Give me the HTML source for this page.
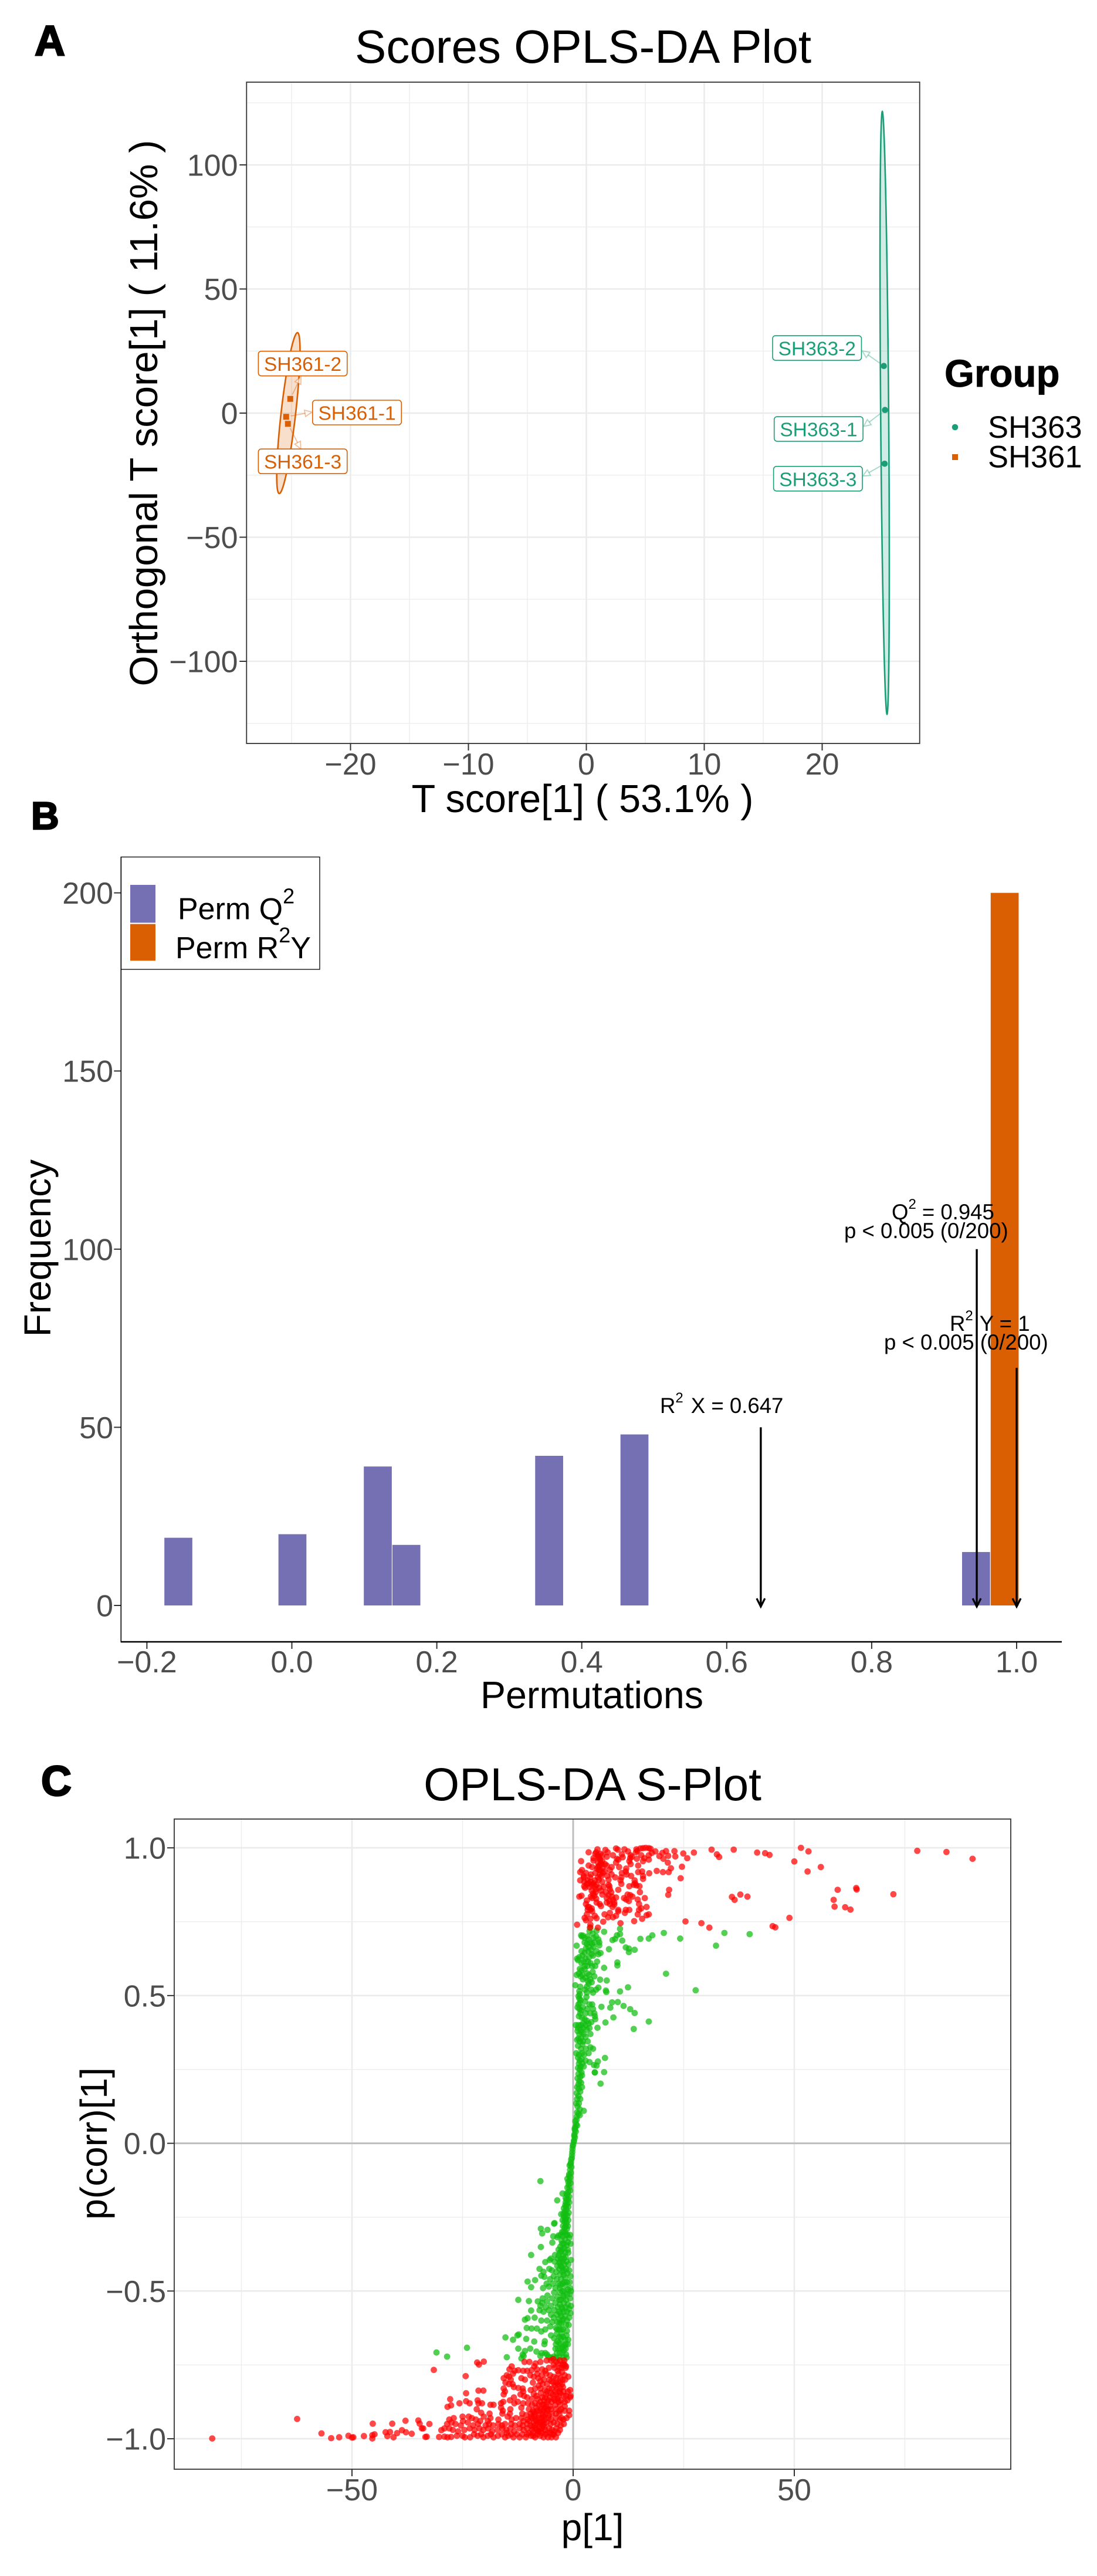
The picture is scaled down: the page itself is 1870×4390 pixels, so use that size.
<!DOCTYPE html>
<html lang="en">
<head>
<meta charset="utf-8">
<title>OPLS-DA figure</title>
<style>
html,body{margin:0;padding:0;background:#fff;}
svg{display:block;font-family:"Liberation Sans",Arial,sans-serif;}
</style>
</head>
<body>
<svg id="fig" xmlns="http://www.w3.org/2000/svg" width="1870" height="4390" viewBox="0 0 1870 4390">
  <rect x="0" y="0" width="1870" height="4390" fill="#fff"/>

  <text x="59" y="94" font-size="72" font-weight="bold" stroke="#000" stroke-width="2.5">A</text>
  <text x="53" y="1413" font-size="66" font-weight="bold" stroke="#000" stroke-width="2.5">B</text>
  <text x="70" y="3060" font-size="72" font-weight="bold" stroke="#000" stroke-width="2.5">C</text>

  <g id="panelA">
    <text x="994" y="107" font-size="80" text-anchor="middle">Scores OPLS-DA Plot</text>
    <g id="aGrid"></g>
    <g id="aMarks"></g>
    <rect x="420.3" y="140" width="1147.4" height="1127" fill="none" stroke="#333" stroke-width="1.8"/>
    <g id="aLabels"></g>
    <g id="aAxes"></g>
    <text x="993" y="1384" font-size="66.5" text-anchor="middle">T score[1] ( 53.1% )</text>
    <text x="268" y="704" font-size="67" text-anchor="middle" transform="rotate(-90 268 704)">Orthogonal T score[1] ( 11.6% )</text>
    <g>
      <text x="1610" y="659" font-size="65.5" font-weight="bold" stroke="#000" stroke-width="0.8">Group</text>
      <circle cx="1628" cy="728" r="5.3" fill="#1B9E77"/>
      <text x="1684" y="746" font-size="52.5">SH363</text>
      <rect x="1623" y="774" width="10" height="10" fill="#D95F02"/>
      <text x="1684" y="796.5" font-size="52.5">SH361</text>
    </g>
  </g>

  <g id="panelB">
    <g id="bMarks"></g>
    <g id="bArrows"></g>
    <g id="bAxes"></g>
    <line x1="206" y1="2798" x2="1810" y2="2798" stroke="#000" stroke-width="2.6"/>
    <line x1="206.3" y1="1460" x2="206.3" y2="2799" stroke="#000" stroke-width="1.6"/>
    <text x="1125" y="2408" font-size="36.6">R<tspan font-size="24" dy="-18">2</tspan><tspan dy="18" dx="13">X = 0.647</tspan></text>
    <text x="1520" y="2078" font-size="36.6">Q<tspan font-size="24" dy="-18">2</tspan><tspan dy="18" dx="10">= 0.945</tspan></text>
    <text x="1439" y="2110" font-size="36.6">p &lt; 0.005 (0/200)</text>
    <text x="1619" y="2268" font-size="36.6">R<tspan font-size="24" dy="-18">2</tspan><tspan dy="18" dx="11">Y = 1</tspan></text>
    <text x="1507" y="2300" font-size="36.6">p &lt; 0.005 (0/200)</text>
    <g>
      <rect x="206.5" y="1460.5" width="338.5" height="191.5" fill="#fff" stroke="#000" stroke-width="1.3"/>
      <rect x="222" y="1508" width="43" height="64.5" fill="#7570B3"/>
      <rect x="222" y="1574.7" width="43" height="62.5" fill="#D95F02"/>
      <text x="303" y="1566.5" font-size="52">Perm Q<tspan font-size="36" dy="-27">2</tspan></text>
      <text x="299" y="1633" font-size="52">Perm R<tspan font-size="36" dy="-27">2</tspan><tspan dy="27">Y</tspan></text>
    </g>
    <text x="1009" y="2911" font-size="64.5" text-anchor="middle">Permutations</text>
    <text x="86" y="2127" font-size="64" text-anchor="middle" transform="rotate(-90 86 2127)">Frequency</text>
  </g>

  <g id="panelC">
    <text x="1010" y="3068" font-size="78.5" text-anchor="middle">OPLS-DA S-Plot</text>
    <g id="cGrid"></g>
    <g id="cMarks"></g>
    <rect x="297" y="3100" width="1426" height="1108" fill="none" stroke="#333" stroke-width="1.8"/>
    <g id="cAxes"></g>
    <text x="1010" y="4329" font-size="64" text-anchor="middle">p[1]</text>
    <text x="182" y="3653" font-size="64" text-anchor="middle" transform="rotate(-90 182 3653)">p(corr)[1]</text>
  </g>
</svg>

<script>
// ---------- Panel A data ----------
const aXTicks = [-20, -10, 0, 10, 20];
const aXTickLabels = ['\u221220', '\u221210', '0', '10', '20'];
const aYTicks = [100, 50, 0, -50, -100];
const aYTickLabels = ['100', '50', '0', '\u221250', '\u2212100'];
const aXMinor = [-25, -15, -5, 5, 15];
const aYMinor = [125, 75, 25, -25, -75, -125];
const sh361Names = ['SH361-1', 'SH361-2', 'SH361-3'];
const sh361X = [-25.46, -25.11, -25.31];
const sh361Y = [-1.49, 5.74, -4.33];
const sh363Names = ['SH363-1', 'SH363-2', 'SH363-3'];
const sh363X = [25.33, 25.23, 25.30];
const sh363Y = [1.25, 18.98, -20.4];
// ellipse fit: centre x, centre y, half-width, half-height, tilt
const sh361Ellipse = [-25.27, 0, 0.62, 32.4, 0.77];
const sh363Ellipse = [25.3, 0.1, 0.34, 121.4, -0.2];

// ---------- Panel B data ----------
const bXTicks = [-0.2, 0, 0.2, 0.4, 0.6, 0.8, 1.0];
const bXTickLabels = ['\u22120.2', '0.0', '0.2', '0.4', '0.6', '0.8', '1.0'];
const bYTicks = [0, 50, 100, 150, 200];
const bYTickLabels = ['0', '50', '100', '150', '200'];
const q2BinCentres = [-0.1566, 0.0008, 0.1186, 0.158, 0.355, 0.4727, 0.944];
const q2Counts = [19, 20, 39, 17, 42, 48, 15];
const r2yBinCentres = [0.9835];
const r2yCounts = [200];
const binWidth = 0.0394;
const arrowValues = [0.647, 0.945, 1];
const arrowHeights = [50, 100, 66.7];

// ---------- Panel C data ----------
const cXTicks = [-50, 0, 50];
const cXTickLabels = ['\u221250', '0', '50'];
const cYTicks = [1, 0.5, 0, -0.5, -1];
const cYTickLabels = ['1.0', '0.5', '0.0', '\u22120.5', '\u22121.0'];
const cXMinor = [-75, -25, 25, 75];
const cYMinor = [0.75, 0.25, -0.25, -0.75];

const greenPositive = [
[32.3,.669],[34.2,.712],[39.9,.708],[24.2,.693],[20.5,.712],[17.9,.704],[17.1,.693],[15.2,.692],[10.6,.726],[10.6,.708],[9.9,.704],[9.5,.692],[8.9,.688],[11.1,.686],[7,.716],[5.3,.72],[3.9,.73],[3.7,.718],[1.8,.704],[2.2,.703],[.8,.669],[8.1,.657],[11.9,.663],[12.6,.659],[13.9,.655],[12.6,.647],[6.2,.644],[21,.574],[27.7,.518],[10,.612],[10,.602],[7,.594],[6.1,.554],[7.6,.551],[12.4,.528],[10.6,.514],[7.5,.512],[7.4,.517],[5.7,.527],[10.1,.478],[8.8,.477],[11.4,.465],[12.9,.454],[13.9,.441],[6.4,.462],[8.4,.459],[17.1,.412],[9.1,.426],[7.3,.409],[13.7,.387],[5.5,.391],[7.2,.289],[5.6,.277],[5.3,.263],[4.9,.24],[7,.241],[6.2,.202],
[2,.7],[2.6,.695],[3.2,.7],[3.5,.69],[4.4,.71],[4.6,.695],[5.2,.7],[5.7,.69],[2.6,.68],[3.1,.675],[3.8,.68],[4.3,.675],[4.8,.68],[5.9,.68],[2.9,.66],[3.5,.665],[4.1,.655],[4.6,.665],[5.9,.67],[1.9,.65],[2.6,.645],[3.4,.65],[4.2,.64],[5.3,.65],[1.4,.63],[2.1,.635],[2.8,.625],[3.6,.63],[4.5,.635],[5.7,.64],[.9,.625],[1.1,.62],[1.9,.61],[2.4,.615],[3.3,.615],[3.9,.61],[5.4,.615],[5,.6],[4.3,.6],[3.2,.6],[2.6,.6],
[1.5,.59],[1.9,.585],[2.1,.57],[2.6,.59],[3.2,.575],[1.3,.575],[1.7,.565],[.8,.57],[3.6,.57],[4.4,.58],[4.8,.565],[3.9,.555],[3.3,.55],[2.8,.56],[2.2,.555],[4.2,.545],[3.5,.54],[.5,.535],[1.6,.53],[2.7,.52],[3.1,.53],[4.1,.52],[4.5,.51],[5.2,.52],[1.4,.515],[1.5,.505],[1.2,.498],[3.1,.51],[3,.495],
[1.4,.49],[1.7,.485],[1.5,.475],[1.2,.47],[1,.46],[1.4,.455],[1.8,.45],[1.6,.44],[4.3,.47],[4.5,.455],[4.8,.44],[2.7,.48],[3.7,.47],[3.2,.455],[2.8,.44],[2.2,.46],[3.9,.44],[4.9,.43],[5,.42],[1.3,.43],[2,.425],[2.6,.42],[3.1,.415],[2.2,.405],[2.8,.4],[3.5,.405],[4.1,.41],[.6,.4],[1.2,.4],[1.8,.4],
[1.1,.39],[1.7,.385],[2.3,.39],[3.1,.385],[3.7,.39],[1,.38],[1.4,.37],[1.9,.375],[2.4,.37],[3.9,.37],[1.2,.355],[1.8,.355],[2.8,.36],[.9,.35],[1.5,.345],[2.2,.345],[3.3,.345],[2.1,.335],[3.9,.325],[4.5,.32],[1.1,.33],[1.8,.32],[2.9,.32],[.7,.305],[1.3,.3],[2,.305],[2.5,.3],[3.5,.305],
[1.1,.29],[1.5,.28],[1.9,.285],[1.3,.27],[1.7,.26],[2.1,.27],[1.1,.255],[1.5,.25],[1.9,.24],[1.2,.235],[1.6,.225],[2,.23],[2.4,.26],[4.7,.265],[3.7,.275],[1,.22],[1.4,.21],[1.8,.205],[4.9,.24],[2.8,.28],[1.2,.2],
[.9,.19],[1.3,.185],[1.6,.175],[2,.19],[.8,.17],[1.2,.16],[1.6,.15],[.9,.15],[1.3,.135],[.7,.135],[2.4,.11],[1.5,.115],[1,.125],[.9,.105],[1.2,.1],[1.5,.095],[.8,.09],
[.8,.08],[.5,.075],[.7,.065],[.9,.06],[.5,.055],[.4,.045],[.6,.04],[.3,.03],[.4,.02],[.2,.01],[.35,.05],[.25,.025],[.15,.005],[0,-.005]
];

const greenNegative = [
[-.1,-.01],[-.15,-.02],[-.2,-.03],[-.25,-.04],[-.3,-.05],[-.45,-.055],[-.5,-.065],[-.6,-.07],[-.8,-.075],[-.4,-.08],[-.7,-.09],[-.5,-.1],[-.9,-.105],[-.65,-.115],[-1.3,-.12],[-.8,-.125],[-.6,-.135],[-1,-.14],[-.85,-.15],[-.7,-.16],[-1.1,-.165],[-1.3,-.175],[-.9,-.18],[-1.7,-.185],[-1.1,-.19],[-.9,-.2],[-1.4,-.205],[-1.8,-.21],[-1.1,-.215],[-1.5,-.225],[-1.9,-.23],[-1,-.235],[-1.3,-.245],[-2,-.25],[-1.6,-.255],[-1.1,-.26],[-2,-.265],[-1.5,-.27],[-1.2,-.28],[-1.9,-.285],[-1.4,-.29],[-1.8,-.3],
[-7.4,-.128],[-3.6,-.193],[-2.4,-.17],[-2.7,-.24],[-4.3,-.272],[-4.2,-.27],[-7.3,-.289],[-5.8,-.293],[-7,-.305],[-4.5,-.315],[-3.6,-.318],[-3.3,-.312],[-4.7,-.336],[-7.3,-.351],[-9.5,-.378],
[-2.8,-.31],[-2.3,-.315],[-1.5,-.31],[-.7,-.31],[-.9,-.32],[-1.8,-.325],[-2.6,-.33],[-1.2,-.335],[-2.1,-.34],[-1.5,-.345],[-2.9,-.35],[-.6,-.34],[-2,-.355],[-1.2,-.36],[-3.3,-.36],[-2.7,-.365],[-1.8,-.37],[-1.1,-.37],[-2.3,-.38],[-3.3,-.38],[-4.1,-.378],[-3.5,-.39],[-2.7,-.39],[-1.7,-.385],[-5,-.39],[-5.3,-.395],[-6.3,-.402],[-4.2,-.4],[-2.4,-.4],[-3.1,-.405],[-1.5,-.4],[-.5,-.395],
[-1.1,-.41],[-2,-.41],[-2.8,-.415],[-3.6,-.415],[-7.6,-.425],[-6.7,-.435],[-5.4,-.425],[-4.8,-.43],[-3.1,-.425],[-1.6,-.425],[-.9,-.43],[-2.4,-.435],[-3.8,-.435],[-1.3,-.44],[-2.1,-.445],[-3,-.445],[-4.4,-.45],[-7.2,-.448],[-6.5,-.452],[-.6,-.45],[-1.8,-.455],[-2.7,-.46],[-3.7,-.46],[-5.2,-.46],[-8.6,-.463],[-10.3,-.468],[-.8,-.47],[-1.4,-.47],[-2.4,-.475],[-3.3,-.475],[-4.6,-.475],[-6,-.475],[-1.8,-.48],[-9.5,-.487],[-5.5,-.485],[-3,-.49],[-4,-.49],[-.7,-.49],[-1.2,-.495],[-6.8,-.49],[-2,-.5],[-.5,-.5],
[-3,-.505],[-4.3,-.505],[-1.4,-.51],[-.8,-.51],[-2.2,-.515],[-5.8,-.515],[-3.5,-.52],[-6.9,-.525],[-.7,-.525],[-4.7,-.525],[-2.8,-.53],[-1.6,-.53],[-12.4,-.53],[-10,-.534],[-8,-.535],[-7,-.54],[-5.9,-.535],[-4,-.54],[-3,-.545],[-2.1,-.54],[-1.2,-.545],[-7.4,-.55],[-.5,-.55],[-6.2,-.555],[-5,-.55],[-3.5,-.555],[-2.6,-.555],[-1.7,-.555],[-.9,-.56],[-9.5,-.566],[-7.6,-.565],[-6.7,-.57],[-5.5,-.565],[-4.2,-.565],[-3.2,-.57],[-2.1,-.57],[-1.4,-.57],[-.6,-.575],[-5,-.58],[-3.7,-.58],[-2.7,-.585],[-1.8,-.585],[-.9,-.59],[-4.4,-.59],[-3.2,-.595],[-2.2,-.595],[-1.4,-.6],[-10.9,-.597],[-10.3,-.592],[-8.7,-.59],[-7.2,-.6],[-5.9,-.6],[-4.7,-.605],[-3.6,-.605],
[-2.7,-.61],[-1.6,-.615],[-1,-.615],[-10.5,-.625],[-9.4,-.627],[-8.2,-.627],[-7.2,-.637],[-6.3,-.63],[-5.2,-.62],[-3.9,-.625],[-3.1,-.63],[-2.3,-.63],[-1.4,-.635],[-1.5,-.65],[-2.6,-.645],[-3.7,-.645],[-4.3,-.66],[-5,-.65],[-2.8,-.66],[-1.8,-.665],[-1.1,-.665],[-15.3,-.657],[-13.6,-.665],[-12.3,-.647],[-12.6,-.65],[-10.6,-.662],[-8.8,-.671],[-6.5,-.68],[-6.4,-.67],[-3.9,-.68],[-3.2,-.675],[-1.7,-.68],[-1.2,-.68],[-2.4,-.69],[-4,-.695],[-1.7,-.695],[-12.4,-.695],[-10.9,-.703],[-9.7,-.695],[-8.3,-.705],[-7.1,-.71],[-6.3,-.71],[-3.7,-.71],[-3,-.71],[-2.4,-.71],[-1.6,-.715],[-24,-.692],[-30.9,-.708],[-28.5,-.722],[-15,-.724],[-11.7,-.728],[-11.4,-.715],[-11.2,-.72],[-7.4,-.72],[-5.6,-.722],[-5,-.725],[-4.4,-.722],[-3.8,-.725],[-3.1,-.725],[-2.2,-.725],[-1.5,-.725],[-5.9,-.715],
[-.9,-.11],[-1.1,-.13],[-1.3,-.15],[-1.5,-.17],[-1.5,-.19],[-1.7,-.2],[-1.6,-.215],[-2.1,-.22],[-1.7,-.24],[-2.2,-.24],[-1.8,-.26],[-2.4,-.26],[-2.3,-.28],[-1.7,-.28],[-2.2,-.3],[-1.3,-.31],[-2.5,-.3],[-2.5,-.34],[-2.5,-.36],[-3,-.37],[-2.1,-.39],[-3,-.4],[-2.5,-.42],[-2.1,-.43],[-2,-.47],[-2.9,-.48],[-2.5,-.5],[-2.1,-.52],[-3.1,-.53],[-2.4,-.56],[-2.9,-.575],[-2.5,-.6],[-3.1,-.61],[-3.6,-.63],[-2.7,-.63],[-3.1,-.655],[-2.3,-.655],[-3.6,-.67],[-2.7,-.68],[-2.1,-.7],[-2.9,-.695],[-3.4,-.695],[-2,-.685]
];

const redPositive = [
[77.8,.99],[84.4,.986],[90.3,.963],[51.5,1],[53.2,.988],[50,.954],[53,.92],[56,.935],[72.4,.843],[64,.864],[64.1,.859],[59.8,.858],[58.9,.824],[59.1,.801],[61.5,.799],[62.7,.791],[48.9,.763],[45.1,.735],[45.7,.731],[39.4,.835],[37.8,.842],[35.9,.834],[36.5,.824],[25.4,.751],[29,.745],[30.8,.73],[41.6,.984],[43.4,.982],[44.4,.976],[36.3,.994],[31.3,.994],[32.5,.978],[33,.969],[27.3,.984],[25.8,.965],[24.9,.981],[24.6,.936],[24.3,.897],[22.9,.989],[23.1,.971],[22.1,.931],[21.4,.95],[21.7,.858],[21.5,.841],[21,.989],[21.6,.918],[20.3,.918],[18.9,.922],[17.2,.914],[19.5,.972],[20.4,.963],[18.6,.988],[20.2,.983],[21.5,.973],
[3.5,.985],[5.5,.995],[5.2,.985],[5.6,.975],[7.3,.993],[7.8,.985],[9.7,.998],[10.1,.994],[11.6,.995],[12.4,.988],[14.3,.995],[14.2,.985],[15.8,.999],[16.4,1],[17.1,.999],[17.5,.997],[15.2,.998],[14.5,.99],
[4.6,.965],[5.7,.97],[6.6,.975],[7.6,.97],[6.1,.96],[9,.975],[11,.978],[11.2,.968],[13,.975],[13.3,.97],[15.4,.975],[16.1,.965],[17.1,.975],[17.8,.983],[12.9,.965],[9.9,.963],
[1.8,.955],[4.6,.957],[5.6,.95],[6.6,.955],[9.7,.95],[10.2,.96],[13,.945],[12.7,.955],[14.4,.963],[15.8,.955],[17.1,.96],[6.3,.948],[7.2,.945],[5.9,.94],
[3.5,.94],[4.3,.935],[5.6,.935],[6.6,.93],[7.6,.94],[8.7,.935],[10.4,.935],[12,.93],[14.7,.94],[6.1,.925],[7.1,.92],[8.3,.925],[11.9,.92],[2,.925],[1.6,.918],
[2.9,.915],[4,.91],[5,.915],[6,.91],[7.7,.905],[8.7,.91],[9.5,.9],[11,.915],[12.1,.91],[13.1,.905],[14.7,.918],[15.6,.92],[15.8,.905],[2.4,.905],[5.6,.9],[10.9,.9],
[1.6,.89],[2.4,.9],[2.5,.885],[3.3,.89],[4,.885],[4.9,.89],[5.8,.892],[6.6,.885],[5.3,.875],[8,.892],[8,.875],[10.7,.89],[10.9,.878],[13.9,.89],[15.8,.895],[3.1,.878],[4.2,.875],
[2.5,.87],[2.7,.865],[4.2,.855],[4.9,.87],[5.9,.865],[6.9,.868],[8.3,.86],[8.2,.87],[10.2,.858],[12.7,.87],[14,.88],[14.3,.873],[15,.87],[13.7,.875],[15.1,.85],[6.3,.855],[5.1,.85],[4.5,.845],
[1.4,.835],[1.9,.838],[4,.835],[4.3,.83],[6.6,.842],[7.6,.83],[8.8,.835],[9.7,.832],[11.5,.83],[12,.825],[12.3,.842],[12.9,.84],[13.4,.835],[14.6,.825],[16.2,.83],[8.2,.82],[9.3,.815],
[2.9,.81],[3.1,.822],[5.3,.815],[6,.81],[6.3,.803],[7.6,.815],[8.3,.81],[9.3,.808],[12.6,.82],[14.9,.81],[16.6,.8],[3.6,.8],[4.2,.795],[8.9,.8],[10.2,.79],
[3.3,.8],[3.9,.79],[4.3,.785],[7.1,.775],[8.3,.78],[10.2,.785],[11.9,.79],[12.7,.79],[14.9,.79],[15.4,.795],[11.7,.78],[14.6,.775],[7.9,.765],[9,.765],[9.7,.77],
[2.6,.763],[2.9,.755],[3.9,.76],[3.1,.775],[4.9,.77],[5.3,.762],[3.3,.79],[6.8,.75],[16.6,.772],[17.1,.775],[15.6,.76],[13.8,.752],[10.7,.745],[3.9,.74],[5.6,.73],[.9,.74],[3.8,.73],
[5,.98],[5.9,.965],[6.2,.98],[6.4,.945],[5.4,.93],[6.7,.915],[5.8,.925],[6.4,.905],[3.8,.9],[4.6,.88],[5.1,.86],[4.8,.838],[5.2,.828],[3.4,.88],[3.7,.868],[7.4,.85],[8,.84],[8.6,.85],[9,.825]
];

const redNegative = [
[-81.6,-.999],[-62.4,-.933],[-56.9,-.982],[-54.7,-.998],[-52.9,-.995],[-50.8,-.99],[-50,-.996],[-49.7,-.995],[-47.3,-.991],[-45.3,-.949],[-44.9,-.985],[-45.4,-.988],[-45.4,-.999],[-42.4,-.978],[-42,-.991],[-41.4,-.977],[-40.6,-.995],[-39.8,-.981],[-40.9,-.949],[-37.9,-.939],[-38.7,-.971],[-37.8,-.978],[-36.5,-.983],[-35,-.938],[-34.7,-.949],[-34.2,-.965],[-33.9,-.965],[-32.5,-.95],[-33.4,-.994],[-33.1,-.993],[-31.5,-.767],[-24.3,-.788],[-21.7,-.742],[-21.3,-.749],[-20.2,-.739],
[-11,-.74],[-9.9,-.74],[-8.5,-.745],[-7.4,-.74],[-6,-.735],[-5,-.735],[-3.8,-.74],[-3,-.735],[-2,-.735],[-4.4,-.75],[-1.9,-.75],[-2.2,-.745],[-8.8,-.755],[-13.9,-.755],[-14.4,-.765],[-13.2,-.77],[-12.4,-.768],[-11.3,-.77],[-10.4,-.77],[-9.4,-.768],[-8.2,-.765],[-7,-.765],[-6.3,-.77],[-5.5,-.76],[-3.1,-.76],[-1.7,-.76],[-1.6,-.755],
[-15,-.785],[-14.5,-.79],[-13.6,-.78],[-9.7,-.785],[-8.1,-.78],[-7.1,-.785],[-6.1,-.78],[-5.2,-.785],[-3.3,-.78],[-2.5,-.775],[-1.9,-.785],[-15.7,-.795],[-14.1,-.8],[-11.7,-.795],[-10.9,-.8],[-8.9,-.79],[-7.9,-.795],[-7.4,-.805],[-6.6,-.8],[-5.4,-.8],[-3.8,-.795],[-2.4,-.8],[-1.8,-.8],[-1.1,-.79],[-15.3,-.81],[-14.5,-.815],[-13.7,-.815],[-9.1,-.81],[-7.8,-.82],[-6.9,-.815],[-5.9,-.815],[-4.5,-.81],[-3.5,-.815],[-2.5,-.815],[-2.3,-.825],
[-15.7,-.83],[-15.4,-.84],[-13.4,-.825],[-12.4,-.828],[-11.4,-.83],[-11.3,-.84],[-9.6,-.835],[-8.6,-.83],[-7.4,-.83],[-6.4,-.835],[-5.4,-.83],[-3.7,-.83],[-2.9,-.83],[-2.2,-.84],[-.7,-.835],[-1.2,-.84],[-24.2,-.846],[-21.4,-.837],[-20.3,-.837],[-15.7,-.85],[-11.9,-.85],[-11.1,-.855],[-10.4,-.86],[-8.9,-.848],[-8.3,-.855],[-7.3,-.845],[-6.1,-.85],[-5.1,-.845],[-3.9,-.85],[-2.9,-.845],[-2.1,-.855],[-1.6,-.855],[-.6,-.855],[-.7,-.86],[-13.4,-.86],[-9.3,-.865],[-8,-.865],[-7,-.86],[-6.6,-.87],[-5.6,-.87],[-4.4,-.865],[-3.5,-.865],[-2.7,-.87],[-1.9,-.875],[-1.3,-.87],
[-27.8,-.866],[-25.7,-.88],[-24.2,-.873],[-23.4,-.88],[-21.6,-.87],[-21.4,-.88],[-20.6,-.88],[-18.7,-.885],[-18,-.885],[-16.3,-.88],[-15.8,-.875],[-14.3,-.87],[-13.3,-.88],[-12.5,-.875],[-11.3,-.88],[-10.2,-.88],[-9.3,-.885],[-8.6,-.88],[-7.8,-.885],[-7,-.885],[-6.1,-.89],[-5.2,-.89],[-4,-.885],[-3,-.885],[-1.9,-.89],
[-27.6,-.887],[-28.4,-.892],[-21.8,-.9],[-16.3,-.895],[-15.9,-.905],[-14.2,-.9],[-11.7,-.895],[-10,-.9],[-9.1,-.905],[-8.3,-.895],[-7.5,-.905],[-6.7,-.905],[-5.9,-.905],[-5,-.9],[-3.9,-.9],[-3.1,-.905],[-2.7,-.9],[-.9,-.905],[-1.9,-.905],[-16,-.915],[-20.8,-.912],[-18.9,-.915],[-14.3,-.915],[-11.5,-.915],[-10.6,-.92],[-8.6,-.915],[-7.7,-.92],[-6.9,-.918],[-6.2,-.915],[-5.5,-.92],[-4.8,-.915],[-3.9,-.915],[-3.1,-.915],[-.9,-.92],
[-28,-.935],[-27,-.93],[-25,-.925],[-24.9,-.94],[-23.6,-.925],[-22.9,-.93],[-22,-.935],[-21,-.94],[-20.2,-.925],[-19.3,-.94],[-18.7,-.93],[-16.9,-.935],[-14.8,-.925],[-13.9,-.935],[-12.9,-.93],[-11.7,-.93],[-11.2,-.94],[-10.3,-.935],[-9.3,-.93],[-8.5,-.935],[-7.9,-.93],[-7.1,-.93],[-6.4,-.935],[-5.6,-.93],[-5,-.935],[-3.9,-.93],[-3,-.935],[-2.6,-.93],[-1.5,-.93],[-2.2,-.935],
[-28.5,-.95],[-27.5,-.945],[-26.6,-.95],[-25.4,-.955],[-23.8,-.945],[-22.6,-.955],[-21.5,-.95],[-19.8,-.955],[-19,-.95],[-18.1,-.955],[-16.9,-.95],[-16.1,-.955],[-15.4,-.95],[-14,-.95],[-13.2,-.955],[-12.1,-.95],[-11.4,-.955],[-10.4,-.95],[-9.6,-.955],[-8.9,-.945],[-8,-.95],[-7.3,-.945],[-6.6,-.95],[-6,-.945],[-5.1,-.95],[-4.4,-.945],[-3.6,-.95],[-2.8,-.955],[-2.1,-.95],
[-29.8,-.971],[-29.1,-.965],[-28,-.965],[-27.2,-.97],[-26,-.975],[-24.6,-.97],[-23.4,-.965],[-22.3,-.97],[-21.2,-.965],[-20.3,-.97],[-19.2,-.965],[-18.3,-.975],[-17.1,-.97],[-16,-.965],[-15.1,-.97],[-14.2,-.965],[-13.3,-.975],[-12.1,-.965],[-11.2,-.97],[-10.4,-.965],[-9.3,-.97],[-8.5,-.965],[-7.9,-.975],[-7.1,-.965],[-6.3,-.97],[-5.4,-.965],[-4.8,-.97],[-3.8,-.965],[-3,-.97],[-4.2,-.975],
[-30.3,-.994],[-29.1,-.993],[-28.4,-.995],[-27.6,-.994],[-26.3,-.99],[-25,-.99],[-24.5,-.995],[-23.3,-.995],[-22.4,-.985],[-21.6,-.99],[-20.8,-.985],[-20.3,-.995],[-19.3,-.99],[-18.6,-.985],[-18,-.995],[-17,-.99],[-16.1,-.985],[-15.4,-.995],[-14.7,-.99],[-15,-.98],[-14,-.985],[-13.5,-.995],[-12.7,-.985],[-12.1,-.995],[-11.5,-.985],[-10.7,-.995],[-10,-.98],[-9.5,-.99],[-9.1,-.98],[-8.6,-.995],[-8.1,-.985],[-7.5,-.99],[-7.1,-.98],[-6.7,-.995],[-6.2,-.985],[-5.7,-.995],[-5.2,-.98],[-4.9,-.995],[-4.4,-.985],[-3.9,-.995],[-3.4,-.98],[-4.7,-.985],[-5.9,-.98],[-7.9,-.975],[-9,-.99],[-10.4,-.985],
[-9.2,-.96],[-8.7,-.955],[-8.2,-.97],[-7.6,-.96],[-7.3,-.975],[-6.9,-.955],[-6.5,-.96],[-9.9,-.94],[-9.5,-.925],[-8.8,-.925],[-8.3,-.94],[-7.6,-.945],[-6.9,-.94],[-6.7,-.925],
[-8.9,-.91],[-8.1,-.905],[-7.2,-.9],[-6.4,-.895],[-5.7,-.9],[-9.6,-.915],[-6.6,-.885],[-7.4,-.875],[-5.9,-.875],[-4.9,-.875],[-4.1,-.87],[-3.3,-.875],[-6.3,-.86],[-5.2,-.86],[-4.6,-.85],[-3.3,-.855],[-4.1,-.84],[-3.1,-.84],[-5.9,-.84],[-4.8,-.83],[-4.1,-.82],[-3,-.81],[-3.8,-.81],[-4.9,-.805],[-2.9,-.795],[-4.4,-.79],[-3.5,-.77],[-2.6,-.76],[-4.2,-.76],[-2.4,-.75],[-3.4,-.745],[-4.5,-.73]
];

// ---------- Layout (pixel offsets of repelled labels, not data) ----------
const sh361LabelOffset = [[120.8,-7.3],[21.3,-60.2],[25.3,63.9]];
const sh361TipOffset = [[44,-8],[18.3,-37.7],[22,42.7]];
const sh363LabelOffset = [[-113.2,32.3],[-113.85,-30.7],[-113.7,25.5]];
const sh363TipOffset = [[-36.4,28],[-36.7,-25.7],[-37.3,21]];

// ---------- Scales ----------
function axX(v){ return 999.5 + 20.1 * v; }
function axY(v){ return 704 - 4.23 * v; }
function bxX(v){ return 497.5 + 1235.5 * v; }
function bxY(v){ return 2736 - 6.072 * v; }
function cxX(v){ return 977 + 7.54 * v; }
function cxY(v){ return 3652.6 - 503.5 * v; }

// ---------- Helpers ----------
const SVGNS = 'http://www.w3.org/2000/svg';
function make(parent, tag, attrs, text){
  const node = document.createElementNS(SVGNS, tag);
  for (const k in attrs) node.setAttribute(k, attrs[k]);
  if (text !== undefined) node.textContent = text;
  parent.appendChild(node);
  return node;
}
function byId(id){ return document.getElementById(id); }

function drawGrid(g, prefix, xs, ys, sx, sy, left, right, top, bottom, width){
  xs.forEach(function(v){
    const el = make(g, 'line', {x1: sx(v), x2: sx(v), y1: top, y2: bottom, stroke: '#EBEBEB', 'stroke-width': width});
    
    
  });
  ys.forEach(function(v){
    const el = make(g, 'line', {x1: left, x2: right, y1: sy(v), y2: sy(v), stroke: '#EBEBEB', 'stroke-width': width});
    
    
  });
}

function drawXAxis(g, prefix, ticks, labels, sx, axisY, labelY){
  ticks.forEach(function(v, i){
    const tick = make(g, 'line', {x1: sx(v), x2: sx(v), y1: axisY, y2: axisY + 12, stroke: '#333', 'stroke-width': 2});
    
    
    const lab = make(g, 'text', {x: sx(v), y: labelY, 'font-size': 52, fill: '#4D4D4D', 'text-anchor': 'middle'}, labels[i]);
    
    
  });
}

function drawYAxis(g, prefix, ticks, labels, sy, axisX, labelRight){
  ticks.forEach(function(v, i){
    const tick = make(g, 'line', {x1: axisX - 12, x2: axisX, y1: sy(v), y2: sy(v), stroke: '#333', 'stroke-width': 2});
    
    
    const lab = make(g, 'text', {x: labelRight, y: sy(v) + 18.5, 'font-size': 52, fill: '#4D4D4D', 'text-anchor': 'end'}, labels[i]);
    
    
  });
}

// ---------- Panel A ----------
(function(){
  const grid = byId('aGrid');
  drawGrid(grid, 'scores-minor', aXMinor, aYMinor, axX, axY, 420.3, 1567.7, 140, 1267, 1.3);
  drawGrid(grid, 'scores-major', aXTicks, aYTicks, axX, axY, 420.3, 1567.7, 140, 1267, 2.6);
  drawXAxis(byId('aAxes'), 'scores', aXTicks, aXTickLabels, axX, 1267, 1320);
  drawYAxis(byId('aAxes'), 'scores', aYTicks, aYTickLabels, axY, 420.3, 405.5);

  const marks = byId('aMarks');
  function ellipsePath(p){
    const pts = [];
    for (let i = 0; i < 180; i++){
      const t = i / 180 * 2 * Math.PI;
      const x = p[0] + p[2] * Math.cos(t) + p[4] * Math.sin(t);
      const y = p[1] + p[3] * Math.sin(t);
      pts.push(axX(x).toFixed(2) + ',' + axY(y).toFixed(2));
    }
    return pts.join(' ');
  }
  const e1 = make(marks, 'polygon', {points: ellipsePath(sh361Ellipse), fill: '#D95F02', 'fill-opacity': 0.2, stroke: '#D95F02', 'stroke-width': 2.6});
  
  
  const e2 = make(marks, 'polygon', {points: ellipsePath(sh363Ellipse), fill: '#1B9E77', 'fill-opacity': 0.2, stroke: '#1B9E77', 'stroke-width': 2.6});
  
  

  sh361X.forEach(function(v, i){
    const el = make(marks, 'rect', {x: axX(v) - 5, y: axY(sh361Y[i]) - 5, width: 10, height: 10, fill: '#D95F02'});
    
    
  });
  sh363X.forEach(function(v, i){
    const el = make(marks, 'circle', {cx: axX(v), cy: axY(sh363Y[i]), r: 5.3, fill: '#1B9E77'});
    
    
  });

  const labels = byId('aLabels');
  function drawLabel(name, px, py, off, tip, color){
    const tx = px + tip[0], ty = py + tip[1];
    const len = Math.hypot(tip[0], tip[1]);
    const ux = tip[0] / len, uy = tip[1] / len;
    const nx = -uy, ny = ux;
    const sx0 = px + ux * 8, sy0 = py + uy * 8;
    const bx = tx - ux * 12, by = ty - uy * 12;
    const seg = make(labels, 'line', {x1: sx0, y1: sy0, x2: bx, y2: by, stroke: color, 'stroke-opacity': 0.4, 'stroke-width': 1.8});
    
    
    const head = make(labels, 'polygon', {
      points: tx + ',' + ty + ' ' + (bx + nx * 5.5) + ',' + (by + ny * 5.5) + ' ' + (bx - nx * 5.5) + ',' + (by - ny * 5.5),
      fill: '#fff', 'fill-opacity': 0.6, stroke: color, 'stroke-opacity': 0.4, 'stroke-width': 1.8
    });
    
    
    const cx = px + off[0], cy = py + off[1];
    const box = make(labels, 'rect', {x: cx - 75.7, y: cy - 21, width: 151.4, height: 42, rx: 5, fill: '#fff', stroke: color, 'stroke-width': 1.6});
    
    
    const txt = make(labels, 'text', {x: cx, y: cy + 12.5, 'font-size': 33.5, fill: color, 'text-anchor': 'middle'}, name);
    
    
  }
  sh361Names.forEach(function(n, i){
    drawLabel(n, axX(sh361X[i]), axY(sh361Y[i]), sh361LabelOffset[i], sh361TipOffset[i], '#D95F02');
  });
  sh363Names.forEach(function(n, i){
    drawLabel(n, axX(sh363X[i]), axY(sh363Y[i]), sh363LabelOffset[i], sh363TipOffset[i], '#1B9E77');
  });
})();

// ---------- Panel B ----------
(function(){
  const marks = byId('bMarks');
  const pxW = binWidth * 1235.5 - 1;
  q2BinCentres.forEach(function(c, i){
    const el = make(marks, 'rect', {x: bxX(c) - pxW / 2, y: bxY(q2Counts[i]), width: pxW, height: bxY(0) - bxY(q2Counts[i]), fill: '#7570B3'});
    
    
  });
  r2yBinCentres.forEach(function(c, i){
    const el = make(marks, 'rect', {x: bxX(c) - pxW / 2, y: bxY(r2yCounts[i]), width: pxW, height: bxY(0) - bxY(r2yCounts[i]), fill: '#D95F02'});
    
    
  });
  const arrows = byId('bArrows');
  arrowValues.forEach(function(v, i){
    const x = bxX(v), yTop = bxY(arrowHeights[i]), yTip = bxY(0) + 2;
    const shaft = make(arrows, 'line', {x1: x, x2: x, y1: yTop, y2: yTip, stroke: '#000', 'stroke-width': 3.4});
    
    
    const head = make(arrows, 'polyline', {points: (x - 7) + ',' + (yTip - 14) + ' ' + x + ',' + yTip + ' ' + (x + 7) + ',' + (yTip - 14), fill: 'none', stroke: '#000', 'stroke-width': 3.2});
    
    
  });
  drawXAxis(byId('bAxes'), 'permutation', bXTicks, bXTickLabels, bxX, 2798, 2850);
  drawYAxis(byId('bAxes'), 'permutation', bYTicks, bYTickLabels, bxY, 206.3, 193);
})();

// ---------- Panel C ----------
(function(){
  const grid = byId('cGrid');
  drawGrid(grid, 's-plot-minor', cXMinor, cYMinor, cxX, cxY, 297, 1723, 3100, 4208, 1.3);
  drawGrid(grid, 's-plot-major', cXTicks, cYTicks, cxX, cxY, 297, 1723, 3100, 4208, 2.6);
  const h0 = make(grid, 'line', {x1: 297, x2: 1723, y1: cxY(0), y2: cxY(0), stroke: '#BEBEBE', 'stroke-width': 3});
  
  
  const v0 = make(grid, 'line', {x1: cxX(0), x2: cxX(0), y1: 3100, y2: 4208, stroke: '#BEBEBE', 'stroke-width': 3});
  
  

  const marks = byId('cMarks');
  function drawPoints(list, color){
    list.forEach(function(p){
      const el = make(marks, 'circle', {cx: cxX(p[0]), cy: cxY(p[1]), r: 5.4, fill: color, 'fill-opacity': 0.72});
      
      
    });
  }
  drawPoints(greenPositive, '#10BE10');
  drawPoints(greenNegative, '#10BE10');
  drawPoints(redPositive, '#FF0000');
  drawPoints(redNegative, '#FF0000');

  drawXAxis(byId('cAxes'), 's-plot', cXTicks, cXTickLabels, cxX, 4208, 4261);
  drawYAxis(byId('cAxes'), 's-plot', cYTicks, cYTickLabels, cxY, 297, 283);
})();
</script>
</body>
</html>
